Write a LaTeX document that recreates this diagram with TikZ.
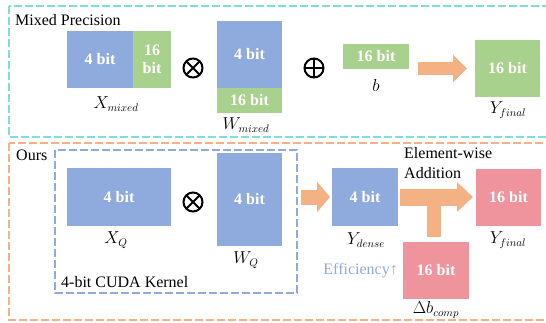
\documentclass[tikz,border=0pt]{standalone}
\usepackage{fontspec}
\setmainfont{Liberation Serif}
\usetikzlibrary{arrows.meta}
\definecolor{qblue}{HTML}{8FAADC}
\definecolor{qgreen}{HTML}{A9D18E}
\definecolor{qpink}{HTML}{EF939C}
\definecolor{qorange}{HTML}{F4B183}
\definecolor{qteal}{HTML}{7DE0D4}
\newcommand{\qsize}{\fontsize{16}{20}\selectfont}
\tikzset{
  every node/.style={font=\qsize},
  bitbox/.style={inner sep=0, outer sep=0, text=white, font=\qsize\bfseries, align=center},
  lbl/.style={inner sep=0},
  opsym/.style={circle, draw, line width=2pt, minimum size=19pt, inner sep=0, outer sep=0},
  groupbox/.style={dash pattern=on 8pt off 3pt, line width=2.5pt},
}
\begin{document}
\begin{tikzpicture}[x=1pt, y=-1pt]
    \useasboundingbox (0,0) rectangle (546,322);
    % dashed group frames
    \draw[groupbox, qteal] (9,6) rectangle (550,137);
    \draw[groupbox, qorange] (9,143) rectangle (550,320);
    \draw[groupbox, qblue, line width=2pt] (55,150) rectangle (297,293);
    \node[anchor=base west, inner sep=0] (mixtitle) at (15,25) {Mixed Precision};
    \node[anchor=base west, inner sep=0] (ourstitle) at (16,160) {Ours};
    \node[anchor=base west, inner sep=0] (kerneltitle) at (61,287) {4-bit CUDA Kernel};

    % mixed precision
    \node[bitbox, fill=qblue, minimum width=66pt, minimum height=57pt] (xmixlo) at (100,59.5) {4 bit};
    \node[bitbox, fill=qgreen, minimum width=38pt, minimum height=57pt, anchor=west,
          font=\bfseries\fontsize{16}{18}\selectfont] (xmixhi) at (xmixlo.east) {16\\bit};
    \node[lbl] (xmixlab) at (116,104) {$X_{mixed}$};
    \node[opsym] (mul1) at (193,68) {};
    \draw[line width=2pt] (mul1.north west) -- (mul1.south east) (mul1.north east) -- (mul1.south west);
    \node[bitbox, fill=qblue, minimum width=65pt, minimum height=67pt] (wmixlo) at (249.5,54.5) {4 bit};
    \node[bitbox, fill=qgreen, minimum width=65pt, minimum height=25pt, anchor=north] (wmixhi) at (wmixlo.south) {16 bit};
    \node[lbl] (wmixlab) at (246,125) {$W_{mixed}$};
    \node[opsym] (add1) at (314,68) {};
    \draw[line width=2pt] (add1.north) -- (add1.south) (add1.west) -- (add1.east);
    \node[bitbox, fill=qgreen, minimum width=66pt, minimum height=25pt] (bias) at (376,56.5) {16 bit};
    \node[lbl] (biaslab) at (376,85) {$b$};
    \node[bitbox, fill=qgreen, minimum width=65pt, minimum height=57pt] (yfinmix) at (507.5,68.5) {16 bit};
    \node[lbl] (yfinmixlab) at (508,110) {$Y_{final}$};
    \draw[qorange, line width=13pt, -{Triangle[length=14pt, width=27pt]}, shorten <=9pt, shorten >=8pt]
        (bias.east |- yfinmix.west) -- (yfinmix.west);

    % ours
    \node[bitbox, fill=qblue, minimum width=104pt, minimum height=58pt] (xq) at (119,197) {4 bit};
    \node[lbl] (xqlab) at (116,240) {$X_Q$};
    \node[opsym] (mul2) at (193,202) {};
    \draw[line width=2pt] (mul2.north west) -- (mul2.south east) (mul2.north east) -- (mul2.south west);
    \node[bitbox, fill=qblue, minimum width=65pt, minimum height=93pt] (wq) at (249.5,199.5) {4 bit};
    \node[lbl] (wqlab) at (246,260) {$W_Q$};
    \node[bitbox, fill=qblue, minimum width=66pt, minimum height=58pt] (ydense) at (365,197) {4 bit};
    \node[lbl] (ydenselab) at (366,240) {$Y_{dense}$};
    \draw[qorange, line width=15pt, -{Triangle[length=13pt, width=30pt]}, shorten <=19pt, shorten >=2pt]
        (wq.east |- ydense.west) -- (ydense.west);
    \node[bitbox, fill=qpink, minimum width=65pt, minimum height=57pt] (yfin) at (508.5,197.5) {16 bit};
    \node[lbl] (yfinlab) at (508,240) {$Y_{final}$};
    \node[bitbox, fill=qpink, minimum width=66pt, minimum height=57pt] (dbcomp) at (436,270.5) {16 bit};
    \node[lbl] (dbcomplab) at (436,310) {$\Delta b_{comp}$};
    \draw[qorange, line width=14pt, shorten <=5pt] ([xshift=-2pt]dbcomp.north) -- ([xshift=-2pt]dbcomp.north |- ydense.east);
    \draw[qorange, line width=17pt, -{Triangle[length=16pt, width=29pt]}, shorten <=2pt, shorten >=3pt]
        (ydense.east) -- (ydense.east -| yfin.west);
    \node[anchor=north west, inner sep=0, align=left] (addtxt) at (404,147) {Element-wise\\Addition};
    \node[anchor=base east, inner sep=0, text=qblue] (efftxt) at (398,274) {Efficiency↑};
\end{tikzpicture}
\end{document}
